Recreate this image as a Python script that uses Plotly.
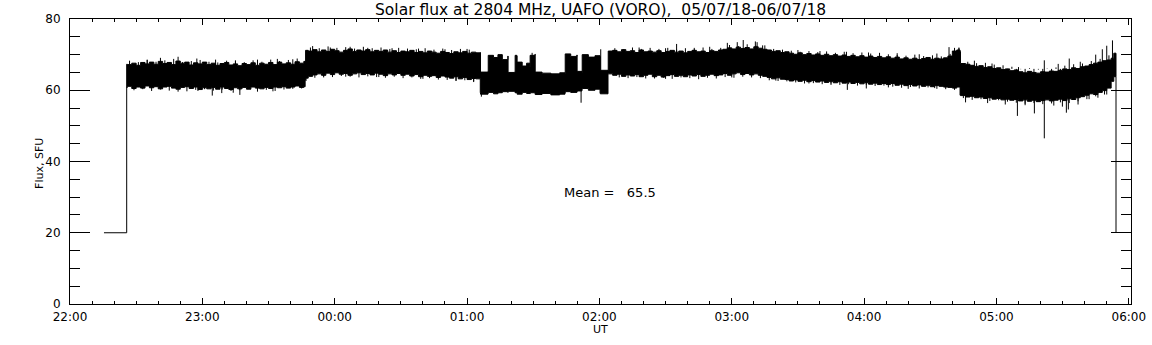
import pandas as pd
import plotly.graph_objects as go

BASE = pd.Timestamp("2018-07-05 22:00")

# ---- data: minutes after 22:00 UT, flux envelopes (SFU) ----
start_t = [15.4, 25.7, 25.7]
start_v = [20.0, 20.0, 67.3]
end_t = [474.2, 474.2]
end_v = [63.8, 20.0]

seg0_t = [25.7]
seg0_hi = [67.3]
seg0_lo = [60.9]

segA_t = list(range(26, 107, 2))
segA_hi = [67.2, 67.6, 67.0, 67.8, 67.4, 67.9, 67.3, 68.1, 67.5, 67.8,
           67.2, 68.2, 67.6, 67.9, 67.1, 67.7, 67.4, 67.9, 67.2, 67.6,
           67.0, 67.5, 67.8, 67.1, 67.4, 66.9, 67.5, 67.2, 67.7, 67.0,
           67.6, 67.3, 67.8, 67.2, 67.9, 67.4, 67.7, 67.3, 68.0, 67.6, 68.1]
segA_lo = [60.8, 61.1, 60.5, 60.9, 60.6, 61.2, 60.7, 61.0, 60.4, 60.9,
           61.1, 60.6, 60.3, 60.8, 61.0, 60.5, 60.9, 60.2, 60.7, 60.4,
           60.8, 60.3, 60.9, 60.5, 60.2, 60.7, 60.4, 60.8, 60.3, 60.9,
           60.6, 60.4, 60.8, 60.5, 60.9, 60.7, 61.0, 60.6, 60.9, 61.2, 60.8]

stepAB_t = [106.6, 106.8]
stepAB_hi = [67.9, 71.2]
stepAB_lo = [61.0, 62.9]

segB_t = list(range(108, 185, 2))
segB_hi = [71.0, 71.4, 70.8, 71.3, 70.9, 71.5, 71.1, 70.7, 71.2, 71.6,
           70.9, 71.3, 71.0, 71.4, 70.8, 71.2, 70.9, 71.3, 70.7, 71.1,
           70.6, 71.0, 70.8, 71.2, 70.6, 70.9, 70.5, 71.0, 70.7, 70.4,
           70.9, 70.6, 70.3, 70.8, 70.5, 70.9, 70.4, 70.7, 70.5]
segB_lo = [63.4, 63.9, 64.3, 64.6, 64.2, 64.8, 64.4, 64.9, 64.5, 64.7,
           64.2, 64.6, 64.9, 64.4, 64.7, 64.3, 64.8, 64.5, 64.1, 64.6,
           64.3, 64.7, 64.2, 64.5, 64.0, 64.4, 63.8, 64.2, 63.9, 64.1,
           63.6, 64.0, 63.7, 63.4, 63.8, 63.2, 63.6, 63.0, 63.3]

# disturbed interval 01:06 - 02:04
segD_t = [186.0, 186.1, 189.5, 189.6, 192.0, 194.0, 196.0, 198.5, 198.6, 201.7,
          201.8, 202.6, 202.7, 205.0, 207.0, 208.5, 208.6, 210.8, 210.9, 214.0,
          218.0, 222.0, 224.4, 224.5, 227.0, 229.8, 229.9, 232.1, 232.2, 235.0,
          238.0, 240.3, 240.4, 243.9, 244.0]
segD_hi = [70.6, 65.1, 65.3, 69.8, 69.2, 70.0, 68.6, 69.6, 65.0, 65.2,
           69.8, 69.6, 67.9, 66.8, 67.6, 66.6, 69.8, 70.1, 65.1, 64.8,
           64.6, 64.9, 64.7, 70.2, 69.5, 69.9, 65.3, 65.0, 70.0, 69.3,
           69.7, 69.4, 65.6, 65.4, 71.0]
segD_lo = [63.2, 59.3, 58.9, 59.1, 59.4, 59.0, 59.3, 59.6, 59.4, 59.7,
           59.5, 59.3, 59.6, 58.9, 59.4, 59.1, 59.0, 59.3, 59.0, 58.8,
           59.1, 58.7, 58.9, 59.2, 59.6, 59.4, 59.5, 59.8, 60.2, 60.5,
           60.0, 60.3, 59.2, 59.0, 64.6]

segC1_t = list(range(246, 265, 2))
segC1_hi = [71.2, 70.8, 71.4, 70.9, 71.1, 70.6, 71.3, 70.8, 71.0, 70.7]
segC1_lo = [64.6, 64.2, 64.5, 63.9, 64.3, 64.0, 64.4, 63.8, 64.2, 64.5]

segC2_t = list(range(266, 295, 2))
segC2_hi = [71.1, 70.6, 70.9, 71.2, 70.7, 71.0, 70.5, 70.9, 71.2, 70.8,
            71.0, 70.6, 71.1, 70.9, 71.3]
segC2_lo = [63.8, 64.2, 63.7, 64.1, 64.4, 63.9, 64.2, 63.8, 64.3, 64.0,
            64.4, 63.9, 64.2, 64.5, 64.1]

segC3_t = list(range(296, 317, 2))
segC3_hi = [71.5, 71.9, 71.6, 72.1, 71.7, 72.0, 71.6, 72.2, 71.8, 71.5, 71.3]
segC3_lo = [64.3, 64.7, 64.2, 64.6, 64.9, 64.4, 64.7, 64.3, 64.6, 64.2, 63.9]

segC4_t = list(range(318, 325, 2))
segC4_hi = [70.9, 71.1, 70.6, 70.8]
segC4_lo = [63.6, 63.2, 63.5, 63.1]

segC5_t = list(range(326, 371, 2))
segC5_hi = [70.4, 70.1, 70.5, 70.0, 70.3, 69.9, 70.2, 69.8, 70.1, 69.7,
            70.0, 69.6, 69.9, 69.5, 69.8, 69.4, 69.7, 69.3, 69.6, 69.2,
            69.5, 69.1, 69.4]
segC5_lo = [63.0, 62.6, 62.9, 62.5, 62.8, 62.4, 62.7, 62.3, 62.6, 62.2,
            62.5, 62.1, 62.4, 62.0, 62.3, 61.9, 62.2, 61.8, 62.1, 61.7,
            62.0, 61.6, 61.9]

segC6_t = list(range(372, 399, 2))
segC6_hi = [69.0, 69.3, 68.8, 69.1, 68.7, 69.0, 68.6, 68.9, 69.2, 68.7,
            69.0, 68.8, 69.1, 69.6]
segC6_lo = [61.6, 61.9, 61.4, 61.7, 61.3, 61.6, 61.2, 61.5, 61.1, 61.4,
            61.0, 61.3, 61.1, 60.9]

segC7_t = [400.0, 402.0, 403.5, 403.7]
segC7_hi = [71.0, 71.3, 70.9, 67.5]
segC7_lo = [60.8, 60.6, 60.9, 58.6]

segC8_t = list(range(406, 429, 2))
segC8_hi = [67.3, 67.0, 66.7, 66.9, 66.4, 66.6, 66.1, 66.3, 65.8, 66.0, 65.5, 65.7]
segC8_lo = [58.5, 58.1, 58.3, 57.9, 58.1, 57.7, 57.9, 57.5, 57.7, 57.3, 57.5, 57.2]

segC9_t = list(range(430, 447, 2))
segC9_hi = [65.2, 64.9, 65.3, 65.0, 64.8, 65.2, 65.1, 65.4, 65.3]
segC9_lo = [57.4, 57.0, 57.3, 56.9, 57.2, 56.8, 57.1, 57.3, 57.0]

segC10_t = list(range(448, 461, 2))
segC10_hi = [65.6, 66.0, 65.8, 66.3, 66.1, 66.6, 66.8]
segC10_lo = [57.2, 57.5, 57.1, 57.6, 57.4, 57.9, 58.2]

segC11_t = list(range(462, 473, 2))
segC11_hi = [67.2, 67.6, 67.9, 68.3, 68.5, 69.0]
segC11_lo = [58.6, 59.0, 58.8, 59.4, 59.9, 60.6]

segC12_t = [473.2, 474.2]
segC12_hi = [70.4, 70.2]
segC12_lo = [62.5, 63.8]

# small noise strokes along the band edges (minute, tip); base = band interior
fuzzA_base = 64.0
fuzzA_up_t = list(range(27, 104, 4))
fuzzA_up_v = [68.3, 67.9, 68.6, 68.0, 68.4, 68.8, 67.9, 68.2, 68.5, 68.0,
              67.8, 68.3, 68.1, 67.9, 68.4, 68.0, 68.6, 68.2, 68.5, 68.9]
fuzzA_dn_t = list(range(29, 106, 4))
fuzzA_dn_v = [60.0, 60.3, 59.8, 60.2, 59.9, 60.4, 59.7, 60.1, 60.3, 59.9,
              60.2, 59.8, 60.0, 60.4, 59.9, 60.1, 59.8, 60.2, 60.4, 60.5]

fuzzB_base = 67.5
fuzzB_up_t = list(range(109, 182, 4))
fuzzB_up_v = [72.0, 71.8, 72.3, 71.9, 72.1, 71.7, 72.2, 71.8, 72.0, 71.6,
              71.9, 71.7, 71.5, 71.8, 71.4, 71.7, 71.3, 71.6, 71.4]
fuzzB_dn_t = list(range(111, 184, 4))
fuzzB_dn_v = [63.5, 63.9, 63.7, 64.0, 63.8, 63.6, 63.9, 63.7, 63.5, 63.8,
              63.4, 63.6, 63.2, 63.4, 63.0, 62.9, 62.7, 62.8, 62.5]

fuzzC_base = 66.0
fuzzC_up_t = list(range(247, 472, 4))
fuzzC_up_v = [71.8, 71.5, 72.0, 71.6, 71.9,
              71.6, 71.9, 71.4, 71.8, 71.5, 72.0, 71.6, 71.9,
              72.7, 72.4, 72.9, 72.5, 72.6,
              71.6, 71.4,
              71.1, 70.8, 71.0, 70.7, 70.9, 70.5, 70.8, 70.4, 70.6, 70.3, 70.5, 70.1,
              69.9, 69.7, 70.0, 69.6, 69.8, 69.5, 70.2,
              71.8,
              68.0, 67.6, 67.7, 67.2, 67.0, 66.6,
              65.9, 66.2, 65.8, 66.1, 66.4,
              66.9, 67.3, 67.5,
              68.2, 68.8, 69.8]
fuzzC_dn_t = list(range(249, 470, 4))
fuzzC_dn_v = [63.6, 63.4, 63.7, 63.3,
              63.3, 63.5, 63.2, 63.6, 63.4, 63.1, 63.5, 63.3,
              63.7, 63.5, 63.8, 63.6, 63.4,
              62.8, 62.6, 62.5,
              62.2, 61.9, 62.0, 61.7, 61.9, 61.5, 61.7, 61.3, 61.5, 61.2, 61.3,
              61.0, 60.7, 60.9, 60.5, 60.8, 60.4, 60.3, 60.1,
              57.8, 57.3, 57.5, 57.0, 57.2, 56.8,
              56.5, 56.2, 56.4, 56.1, 56.3,
              56.6, 56.4, 56.9, 57.5,
              58.3, 58.8]

# isolated larger spikes: (minute, from, to)
spike_t = [35, 41, 49, 57.5, 66, 75, 85, 94, 101,
           49, 58, 64.5, 68.8, 74, 77, 85, 92,
           110, 118, 127, 135, 146, 158, 170, 180,
           107, 115, 125, 140, 160, 175, 183,
           186.5, 209.5, 231.7, 240.6,
           258, 270, 275, 283, 290, 298, 302.5, 305.2, 310.7, 311.5, 314,
           330, 340, 352, 362, 375, 385, 393,
           270, 300, 320, 335, 345, 352.4, 361, 371, 380, 392,
           398.5, 401, 403, 410, 418, 430, 441.7, 448, 453, 458, 465, 468, 470, 472.6,
           406, 416, 424, 429.5, 433, 437.2, 441.7, 446, 449.9, 451.7, 452.6, 457,
           462, 466, 470]
spike_a = [64] * 9 + [64] * 8 + [67] * 8 + [67] * 7 + [62] * 4 + \
          [67] * 11 + [66] * 7 + [66] * 10 + \
          [66, 66, 66, 63, 63, 63, 60, 63, 63, 63, 63, 63, 63, 63] + [62] * 15
spike_b = [68.5, 69.1, 69.4, 68.9, 68.6, 68.4, 68.6, 68.8, 68.7,
           59.6, 59.8, 58.5, 59.2, 59.3, 58.7, 59.6, 59.7,
           72.4, 72.0, 72.2, 71.9, 71.8, 71.7, 71.5, 71.6,
           62.6, 63.6, 63.8, 63.7, 63.2, 62.6, 62.3,
           58.2, 70.5, 56.5, 71.5,
           72.0, 71.8, 73.0, 71.9, 72.2, 73.3, 73.5, 74.1, 73.7, 73.5, 72.6,
           71.3, 71.0, 70.8, 70.6, 70.4, 70.1, 70.3,
           63.2, 63.6, 62.7, 61.9, 61.5, 60.1, 60.5, 60.8, 60.4, 60.6,
           72.1, 71.9, 72.0, 68.3, 67.5, 66.5, 68.4, 67.4, 68.9, 68.0, 70.0, 71.5, 72.5, 74.0,
           56.6, 56.4, 56.0, 52.8, 55.8, 53.5, 46.5, 55.7, 55.4, 53.7, 54.6, 56.0,
           57.5, 57.9, 58.8]

hour_labels = ["22:00", "23:00", "00:00", "01:00", "02:00", "03:00", "04:00", "05:00", "06:00"]
mean_value = 65.5

# ---- assemble ----
segments = [
    (seg0_t, seg0_hi, seg0_lo), (segA_t, segA_hi, segA_lo), (stepAB_t, stepAB_hi, stepAB_lo),
    (segB_t, segB_hi, segB_lo), (segD_t, segD_hi, segD_lo), (segC1_t, segC1_hi, segC1_lo),
    (segC2_t, segC2_hi, segC2_lo), (segC3_t, segC3_hi, segC3_lo), (segC4_t, segC4_hi, segC4_lo),
    (segC5_t, segC5_hi, segC5_lo), (segC6_t, segC6_hi, segC6_lo), (segC7_t, segC7_hi, segC7_lo),
    (segC8_t, segC8_hi, segC8_lo), (segC9_t, segC9_hi, segC9_lo), (segC10_t, segC10_hi, segC10_lo),
    (segC11_t, segC11_hi, segC11_lo), (segC12_t, segC12_hi, segC12_lo),
]
core_t, core_hi, core_lo = [], [], []
for t, hi, lo in segments:
    assert len(t) == len(hi) == len(lo), (t[0], len(t), len(hi), len(lo))
    core_t += list(t)
    core_hi += list(hi)
    core_lo += list(lo)

strokes = []  # (minute, from, to)
strokes += list(zip(spike_t, spike_a, spike_b))
for base, ts, vs in [(fuzzA_base, fuzzA_up_t, fuzzA_up_v), (fuzzA_base, fuzzA_dn_t, fuzzA_dn_v),
                     (fuzzB_base, fuzzB_up_t, fuzzB_up_v), (fuzzB_base, fuzzB_dn_t, fuzzB_dn_v),
                     (fuzzC_base, fuzzC_up_t, fuzzC_up_v), (fuzzC_base, fuzzC_dn_t, fuzzC_dn_v)]:
    assert len(ts) == len(vs), (ts[0], len(ts), len(vs))
    strokes += [(t, base, v) for t, v in zip(ts, vs)]
assert len(spike_t) == len(spike_a) == len(spike_b)


def to_time(mins):
    return [None if m is None else BASE + pd.Timedelta(minutes=float(m)) for m in mins]


fig = go.Figure()
poly_t = core_t + core_t[::-1]
poly_v = core_hi + core_lo[::-1]
fig.add_trace(go.Scatter(x=to_time(poly_t), y=poly_v, mode="lines", fill="toself",
                         fillcolor="black", line=dict(color="black", width=1, shape="hv"),
                         hoverinfo="skip"))

sx, sy = [], []
for t, a, b in strokes:
    sx += [t, t, None]
    sy += [a, b, None]
fig.add_trace(go.Scatter(x=to_time(sx), y=sy, mode="lines",
                         line=dict(color="black", width=1), hoverinfo="skip"))
fig.add_trace(go.Scatter(x=to_time(start_t), y=start_v, mode="lines",
                         line=dict(color="black", width=1)))
fig.add_trace(go.Scatter(x=to_time(end_t), y=end_v, mode="lines",
                         line=dict(color="black", width=1)))

FONT = "DejaVu Sans"
tick_times = [BASE + pd.Timedelta(hours=i) for i in range(len(hour_labels))]

fig.update_layout(
    width=1152, height=345,
    margin=dict(l=70, r=21, t=19, b=41, autoexpand=False),
    plot_bgcolor="white", paper_bgcolor="white",
    showlegend=False,
    font=dict(family=FONT, size=12, color="black"),
    xaxis=dict(
        type="date", automargin=False,
        range=[BASE, BASE + pd.Timedelta(minutes=481)],
        tickmode="array", tickvals=tick_times, ticktext=hour_labels,
        ticks="inside", ticklen=6, tickwidth=1, tickcolor="black",
        minor=dict(tickmode="linear", tick0=BASE, dtick=600000, ticks="inside",
                   ticklen=3, tickwidth=1, tickcolor="black", showgrid=False),
        showline=True, linecolor="black", linewidth=1, mirror="ticks",
        showgrid=False, zeroline=False, ticklabelstandoff=2,
        tickfont=dict(family=FONT, size=12, color="black"),
    ),
    yaxis=dict(
        range=[0, 80], tickmode="linear", tick0=0, dtick=20, automargin=False,
        ticks="inside", ticklen=20, tickwidth=1, tickcolor="black",
        minor=dict(tickmode="linear", tick0=0, dtick=5, ticks="inside",
                   ticklen=10, tickwidth=1, tickcolor="black", showgrid=False),
        showline=True, linecolor="black", linewidth=1, mirror="ticks",
        showgrid=False, zeroline=False, ticklabelstandoff=6,
        tickfont=dict(family=FONT, size=12, color="black"),
    ),
    annotations=[
        dict(text="Solar flux at 2804 MHz, UAFO (VORO),&nbsp; 05/07/18-06/07/18",
             xref="paper", yref="paper", x=0.5, y=1.0316, xanchor="center", yanchor="middle",
             showarrow=False, font=dict(family=FONT, size=15.5, color="black")),
        dict(text="UT", xref="paper", yref="paper", x=0.5, y=-0.088,
             xanchor="center", yanchor="middle", showarrow=False,
             font=dict(family=FONT, size=11, color="black")),
        dict(text="Flux, SFU", xref="paper", yref="paper", x=-0.0283, y=0.495,
             xanchor="center", yanchor="middle", textangle=-90, showarrow=False,
             font=dict(family=FONT, size=11, color="black")),
        dict(text=f"Mean =&nbsp;&nbsp; {mean_value}", xref="x", yref="y",
             x=BASE + pd.Timedelta(minutes=245), y=31.2,
             xanchor="center", yanchor="middle", showarrow=False,
             font=dict(family=FONT, size=13, color="black")),
    ],
)

# remove the browser's default 8px page margin so the 1152x345 figure fills the window
fig.write_html("out.html", config={"displayModeBar": False},
               post_script="document.body.style.margin='0';")
